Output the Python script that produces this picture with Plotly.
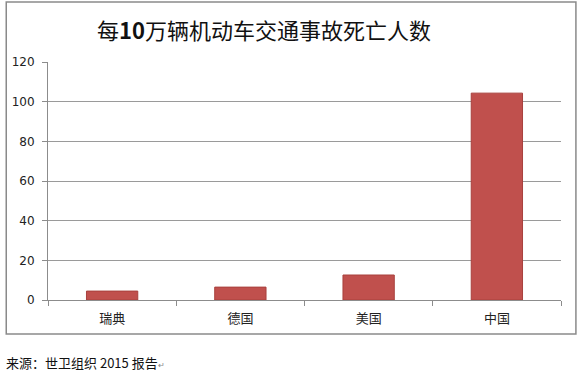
import plotly.graph_objects as go

categories = ["瑞典", "德国", "美国", "中国"]
values = [4.5, 6.5, 12.6, 104.3]
y_ticks = [0, 20, 40, 60, 80, 100, 120]

W, H = 580, 371
L, R, T, B = 45, 19, 62, 71
pw, ph = W - L - R, H - T - B

def px(x):
    return (x - L) / pw

def py(y):
    return (H - B - y) / ph

fig = go.Figure(go.Bar(
    x=categories, y=values, width=0.40,
    marker=dict(color="#C0504D", line=dict(color="#A8403D", width=1)),
))

fig.update_layout(
    width=W, height=H,
    margin=dict(l=L, r=R, t=T, b=B),
    paper_bgcolor="white", plot_bgcolor="white",
    showlegend=False,
    font=dict(family="Noto Sans CJK SC, DejaVu Sans", color="#222222"),
    xaxis=dict(
        showline=True, linecolor="#8c8c8c", linewidth=1,
        ticks="outside", tickson="boundaries", ticklen=5, tickcolor="#8c8c8c",
        tickfont=dict(size=13, color="#222222"),
        ticklabelstandoff=6,
        showgrid=False,
    ),
    yaxis=dict(
        range=[0, 120], tickvals=y_ticks,
        showline=True, linecolor="#8c8c8c", linewidth=1,
        ticks="outside", ticklen=5, tickcolor="#8c8c8c",
        gridcolor="#9a9a9a", gridwidth=1,
        tickfont=dict(size=12, color="#222222", family="DejaVu Sans"),
        ticklabelstandoff=5,
        zeroline=False,
    ),
    shapes=[dict(type="rect", xref="paper", yref="paper",
                 x0=px(3), x1=px(576), y0=py(334), y1=py(2),
                 line=dict(color="#8a8a8a", width=1.5))],
    annotations=[
        dict(text="每<b>10</b>万辆机动车交通事故死亡人数", xref="paper", yref="paper",
             x=px(262), y=py(29), xanchor="center", yanchor="middle", showarrow=False,
             font=dict(size=22, color="#111111", family="Noto Sans CJK SC")),
        dict(text="来源：世卫组织 2015 报告<span style='font-size:8px;color:#888'>↵</span>",
             xref="paper", yref="paper",
             x=px(1), y=py(362), xanchor="left", yanchor="middle", showarrow=False,
             font=dict(size=13, color="#111111", family="Noto Sans CJK SC")),
    ],
)

fig.write_html("out.html", config={"displayModeBar": False},
               post_script="document.body.style.margin='0';document.body.style.padding='0';")
